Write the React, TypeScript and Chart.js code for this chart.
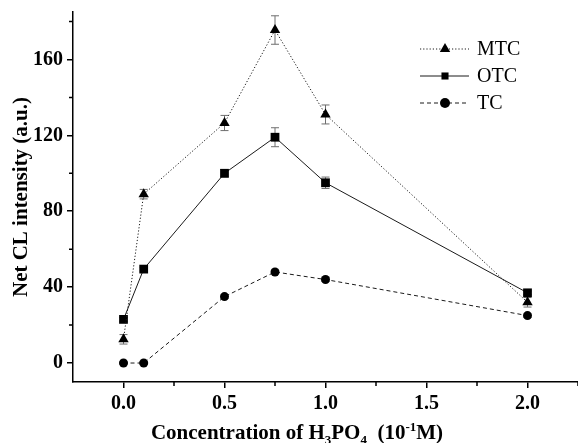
import React, { useEffect, useRef } from 'react';
import { Chart, registerables } from 'chart.js';

Chart.register(...registerables);

// ---- Data ----
const concentrations = [0, 0.1, 0.5, 0.75, 1.0, 2.0];
const mtcValues = [12.5, 89, 126.5, 175.5, 131, 32];
const mtcErrors = [2.5, 2.5, 4, 7.5, 5, 2.5];
const otcValues = [23, 49.5, 100, 119, 95, 37];
const otcErrors = [1, 1, 2, 5, 3, 1];
const tcValues = [0, 0, 35, 48, 44, 25];
const tcErrors = [0.5, 0.5, 1, 1, 1, 1];

const seriesLabels = ['MTC', 'OTC', 'TC'];
const xMajorTicks = [0, 0.5, 1.0, 1.5, 2.0];
const xMinorTicks = [0.25, 0.75, 1.25, 1.75, 2.25];
const yMajorTicks = [0, 40, 80, 120, 160];
const yMinorTicks = [20, 60, 100, 140, 180];

const FONT = '"Liberation Serif", "Times New Roman", serif';

function drawMarker(ctx: CanvasRenderingContext2D, style: string, x: number, y: number, r: number) {
  ctx.beginPath();
  if (style === 'triangle') {
    ctx.moveTo(x, y - r);
    ctx.lineTo(x + r * 0.866, y + r * 0.5);
    ctx.lineTo(x - r * 0.866, y + r * 0.5);
    ctx.closePath();
  } else if (style === 'rect') {
    const s = r * Math.SQRT1_2;
    ctx.rect(x - s, y - s, 2 * s, 2 * s);
  } else {
    ctx.arc(x, y, r, 0, Math.PI * 2);
  }
  ctx.fill();
}

const errorBarPlugin = {
  id: 'errorBars',
  beforeDatasetsDraw(chart: any) {
    const { ctx, scales } = chart;
    const xs = scales.x;
    const ys = scales.y;
    ctx.save();
    ctx.strokeStyle = '#6e6e6e';
    ctx.lineWidth = 1;
    chart.data.datasets.forEach((ds: any) => {
      const errs: number[] = ds.errors || [];
      ds.data.forEach((p: any, j: number) => {
        const e = errs[j] || 0;
        const px = xs.getPixelForValue(p.x);
        const top = ys.getPixelForValue(p.y + e);
        const bot = ys.getPixelForValue(p.y - e);
        ctx.beginPath();
        ctx.moveTo(px, top);
        ctx.lineTo(px, bot);
        ctx.moveTo(px - 4, top);
        ctx.lineTo(px + 4, top);
        ctx.moveTo(px - 4, bot);
        ctx.lineTo(px + 4, bot);
        ctx.stroke();
      });
    });
    ctx.restore();
  },
};

const decorPlugin = {
  id: 'decor',
  afterDraw(chart: any) {
    const { ctx, chartArea, scales } = chart;
    const xs = scales.x;
    const ys = scales.y;
    ctx.save();
    // minor ticks
    ctx.strokeStyle = '#000';
    ctx.lineWidth = 1.5;
    ctx.beginPath();
    xMinorTicks.forEach((v) => {
      const px = xs.getPixelForValue(v);
      ctx.moveTo(px, chartArea.bottom);
      ctx.lineTo(px, chartArea.bottom + 4);
    });
    yMinorTicks.forEach((v) => {
      const py = ys.getPixelForValue(v);
      ctx.moveTo(chartArea.left, py);
      ctx.lineTo(chartArea.left - 4, py);
    });
    ctx.stroke();

    // legend
    const right = chartArea.right;
    chart.data.datasets.forEach((ds: any, i: number) => {
      const y = chartArea.top + 37 + i * 27;
      ctx.strokeStyle = ds.borderColor;
      ctx.lineWidth = ds.borderWidth;
      ctx.setLineDash(ds.borderDash || []);
      ctx.beginPath();
      ctx.moveTo(right - 158, y);
      ctx.lineTo(right - 109, y);
      ctx.stroke();
      ctx.setLineDash([]);
      ctx.fillStyle = '#000';
      drawMarker(ctx, ds.pointStyle, right - 133, y, ds.pointStyle === 'triangle' ? 6 : 5);
      ctx.font = `20px ${FONT}`;
      ctx.textBaseline = 'middle';
      ctx.textAlign = 'left';
      ctx.fillText(ds.label, right - 101, y + 1);
    });

    // x axis title with sub/superscripts
    const big = `bold 21px ${FONT}`;
    const small = `bold 13px ${FONT}`;
    const parts: [string, string, number][] = [
      ['Concentration of H', big, 0],
      ['3', small, 5],
      ['PO', big, 0],
      ['4', small, 5],
      ['  (10', big, 0],
      ['-1', small, -8],
      ['M)', big, 0],
    ];
    let total = 0;
    parts.forEach(([t, f]) => {
      ctx.font = f;
      total += ctx.measureText(t).width;
    });
    let x = chartArea.left + 224 - total / 2;
    const base = chart.height - 4;
    ctx.fillStyle = '#000';
    ctx.textAlign = 'left';
    ctx.textBaseline = 'alphabetic';
    parts.forEach(([t, f, dy]) => {
      ctx.font = f;
      ctx.fillText(t, x, base + dy);
      x += ctx.measureText(t).width;
    });
    ctx.restore();
  },
};

export default function App() {
  const canvasRef = useRef<HTMLCanvasElement | null>(null);

  useEffect(() => {
    document.body.style.margin = '0';
    const canvas = canvasRef.current;
    if (!canvas) return;
    const toPts = (vals: number[]) => concentrations.map((c, i) => ({ x: c, y: vals[i] }));
    const common = {
      borderColor: '#1a1a1a',
      backgroundColor: '#000',
      borderWidth: 1,
      pointBackgroundColor: '#000',
      pointBorderColor: '#000',
      pointBorderWidth: 0,
      tension: 0,
    };
    const chart = new Chart(canvas, {
      type: 'line',
      data: {
        datasets: [
          { ...common, label: seriesLabels[0], data: toPts(mtcValues), errors: mtcErrors, borderDash: [1.2, 2], pointStyle: 'triangle', pointRadius: 6 } as any,
          { ...common, label: seriesLabels[1], data: toPts(otcValues), errors: otcErrors, borderDash: [], pointStyle: 'rect', pointRadius: 6.2 } as any,
          { ...common, label: seriesLabels[2], data: toPts(tcValues), errors: tcErrors, borderDash: [4, 3], pointStyle: 'circle', pointRadius: 4.5 } as any,
        ],
      },
      options: {
        responsive: false,
        animation: false,
        layout: { autoPadding: false, padding: { top: 12, left: 0, right: 0, bottom: 0 } },
        plugins: {
          legend: { display: false },
          tooltip: { enabled: false },
        },
        scales: {
          x: {
            type: 'linear',
            min: -0.25,
            max: 2.25,
            afterBuildTicks: (axis: any) => {
              axis.ticks = xMajorTicks.map((v) => ({ value: v }));
            },
            afterFit: (scale: any) => {
              scale.height = 61;
              scale.paddingLeft = 0;
              scale.paddingRight = 0;
            },
            border: { display: true, color: '#000', width: 1.5 },
            grid: { drawOnChartArea: false, drawTicks: true, tickLength: 6, color: '#000', lineWidth: 1.5 },
            ticks: {
              color: '#000',
              padding: 4,
              maxRotation: 0,
              font: { family: FONT, size: 20, weight: 'bold' },
              callback: (v: any) => Number(v).toFixed(1),
            },
          },
          y: {
            type: 'linear',
            min: -10,
            max: 185,
            afterBuildTicks: (axis: any) => {
              axis.ticks = yMajorTicks.map((v) => ({ value: v }));
            },
            afterFit: (scale: any) => {
              scale.width = 73;
              scale.paddingTop = 0;
              scale.paddingBottom = 0;
            },
            border: { display: true, color: '#000', width: 1.5 },
            grid: { drawOnChartArea: false, drawTicks: true, tickLength: 6, color: '#000', lineWidth: 1.5 },
            ticks: {
              color: '#000',
              padding: 4,
              font: { family: FONT, size: 20, weight: 'bold' },
              callback: (v: any) => String(v),
            },
            title: {
              display: true,
              text: 'Net CL intensity (a.u.)',
              color: '#000',
              font: { family: FONT, size: 21, weight: 'bold' },
              padding: { top: 9, bottom: 0 },
            },
          },
        },
      },
      plugins: [errorBarPlugin, decorPlugin],
    } as any);
    return () => chart.destroy();
  }, []);

  return (
    <div style={{ width: 578, height: 443 }}>
      <canvas ref={canvasRef} width={578} height={443} style={{ display: 'block' }} />
    </div>
  );
}
